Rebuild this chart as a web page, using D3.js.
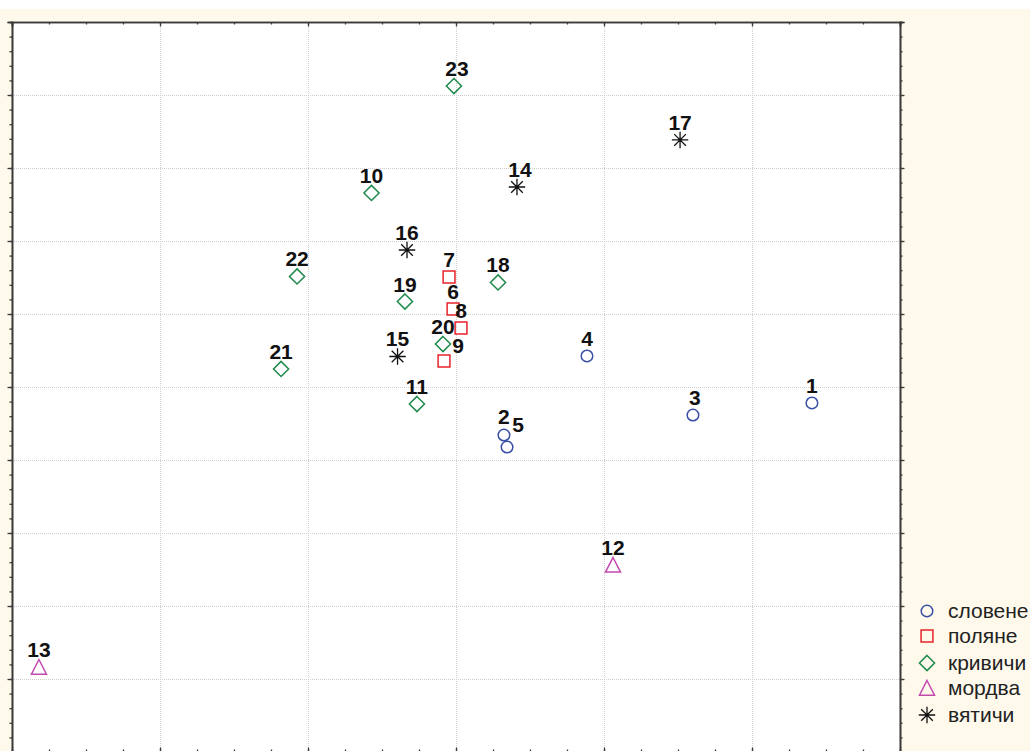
<!DOCTYPE html>
<html>
<head>
<meta charset="utf-8">
<script src="https://cdn.jsdelivr.net/npm/d3@7"></script>
<style>
  body { margin: 0; background: #fff; }
  svg { display: block; }
</style>
</head>
<body>
<svg id="chart" width="1030" height="751"></svg>
<script>
// point numbers, scores on the two axes, and group of each point
const ids    = [1, 2, 3, 4, 5, 6, 7, 8, 9, 10, 11, 12, 13, 14, 15, 16, 17, 18, 19, 20, 21, 22, 23]
const xVals  = [2.405, 0.324, 1.601, 0.885, 0.345, -0.020, -0.047, 0.034, -0.081, -0.571, -0.264, 1.061, -2.818,
                0.412, -0.395, -0.331, 1.514, 0.284, -0.345, -0.088, -1.182, -1.074, -0.014]
const yVals  = [-0.219, -0.658, -0.384, 0.425, -0.822, 1.068, 1.507, 0.808, 0.356, 2.658, -0.233, -2.438, -3.836,
                2.740, 0.418, 1.877, 3.384, 1.432, 1.171, 0.589, 0.247, 1.514, 4.123]
const groups = [0, 0, 0, 0, 0, 1, 1, 1, 1, 2, 2, 3, 3, 4, 4, 4, 4, 2, 2, 2, 2, 2, 2]

const groupNames  = ['словене', 'поляне', 'кривичи', 'мордва', 'вятичи']
const groupColors = ['#3a4fa6', '#e8232a', '#1f8a4c', '#c24aae', '#111111']

// a few labels are pushed aside so they do not sit on a neighbour
const labelShift = { 5: [11, -5], 9: [14, 2], 14: [3, 0], 23: [3, 0], 3: [2, 0], 2: [0, -1] }

const xTicks = d3.range(-3, 3.01, 1)
const yTicks = d3.range(-5, 5.01, 1)

const W = 1030, H = 751
const plot = { left: 12, right: 900, top: 22, bottom: 752 }

const svg = d3.select('#chart')

svg.append('rect')
   .attr('x', 0).attr('y', 9)
   .attr('width', W).attr('height', H - 9)
   .attr('fill', '#fff9ec')

svg.append('rect')
   .attr('x', plot.left).attr('y', plot.top)
   .attr('width', plot.right - plot.left).attr('height', plot.bottom - plot.top)
   .attr('fill', '#fff')

const x = d3.scaleLinear().domain([-3, 3]).range([plot.left, plot.right])
const y = d3.scaleLinear().domain([-5, 5]).range([plot.bottom, plot.top])

// grid
const grid = svg.append('g').attr('class', 'grid')
grid.append('g')
    .attr('transform', `translate(0,${plot.bottom})`)
    .call(d3.axisBottom(x).tickValues(xTicks.slice(1, -1)).tickSize(-(plot.bottom - plot.top)).tickFormat(''))
grid.append('g')
    .attr('transform', `translate(${plot.left},0)`)
    .call(d3.axisLeft(y).tickValues(yTicks.slice(1, -1)).tickSize(-(plot.right - plot.left)).tickFormat(''))
grid.selectAll('.domain').remove()
grid.selectAll('line')
    .attr('stroke', '#cfcfcf')
    .attr('stroke-width', 1)
    .attr('stroke-dasharray', '1,1')

// frame ticks, pointing into the plot
const xMinor = d3.range(-3, 3.001, 0.25)
const yMinor = d3.range(-5, 5.001, 0.2)
const axColor = '#3a3a3a'

function frameAxis(makeAxis, pos, minorVals, majorVals, showLine) {
  const g = svg.append('g').attr('transform', pos)
  g.append('g').call(makeAxis().tickValues(minorVals).tickSize(-2.5).tickFormat(''))
  g.append('g').call(makeAxis().tickValues(majorVals).tickSize(-4.5).tickFormat(''))
  g.selectAll('line').attr('stroke', axColor).attr('stroke-width', 1.3)
  if (showLine) g.selectAll('.domain').attr('stroke', axColor).attr('stroke-width', 1.6)
  else g.selectAll('.domain').remove()
}
frameAxis(() => d3.axisTop(x), `translate(0,${plot.top})`, xMinor, xTicks, true)
frameAxis(() => d3.axisBottom(x), `translate(0,${plot.bottom})`, xMinor, xTicks, false)
frameAxis(() => d3.axisRight(y), `translate(${plot.left},0)`, yMinor, yTicks, true)
frameAxis(() => d3.axisLeft(y), `translate(${plot.right},0)`, yMinor, yTicks, true)
svg.selectAll('.tick text').remove()

// marker shapes
const asterisk = {
  draw(ctx, size) {
    const r = Math.sqrt(size) / 2
    const d = r * Math.SQRT1_2
    ctx.moveTo(-r, 0); ctx.lineTo(r, 0)
    ctx.moveTo(0, -r); ctx.lineTo(0, r)
    ctx.moveTo(-d, -d); ctx.lineTo(d, d)
    ctx.moveTo(-d, d); ctx.lineTo(d, -d)
  }
}
const squareDiamond = {
  draw(ctx, size) {
    const r = Math.sqrt(size) / 2
    ctx.moveTo(0, -r); ctx.lineTo(r, 0); ctx.lineTo(0, r); ctx.lineTo(-r, 0); ctx.closePath()
  }
}
const openTriangle = {
  draw(ctx, size) {
    const r = Math.sqrt(size) / 2
    ctx.moveTo(0, -r); ctx.lineTo(r, r * 0.95); ctx.lineTo(-r, r * 0.95); ctx.closePath()
  }
}
const shapes = [d3.symbolCircle, d3.symbolSquare, squareDiamond, openTriangle, asterisk]
const shapeSizes = [105, 140, 230, 225, 270]

function marker(sel, gi) {
  sel.append('path')
     .attr('d', d3.symbol().type(shapes[gi]).size(shapeSizes[gi])())
     .attr('fill', 'none')
     .attr('stroke', groupColors[gi])
     .attr('stroke-width', gi === 4 ? 1.3 : 1.5)
}

const pts = ids.map((id, i) => ({ id, x: xVals[i], y: yVals[i], g: groups[i] }))

const pg = svg.append('g')
  .selectAll('g').data(pts).enter()
  .append('g')
  .attr('transform', d => `translate(${x(d.x)},${y(d.y)})`)
pg.each(function (d) { marker(d3.select(this), d.g) })
pg.append('text')
  .attr('x', d => (labelShift[d.id] || [0, 0])[0])
  .attr('y', d => -10 + (labelShift[d.id] || [0, 0])[1])
  .attr('text-anchor', 'middle')
  .attr('font-family', '"Liberation Sans", Arial, sans-serif')
  .attr('font-weight', 'bold')
  .attr('font-size', 21)
  .attr('fill', '#111')
  .text(d => d.id)

// legend
const legendY = [611, 636, 663, 688, 715]
const lg = svg.append('g')
  .selectAll('g').data(groupNames).enter()
  .append('g')
  .attr('transform', (d, i) => `translate(927,${legendY[i]})`)
lg.each(function (d, i) { marker(d3.select(this), i) })
lg.append('text')
  .attr('x', 21).attr('y', 7)
  .attr('font-family', '"Liberation Sans", Arial, sans-serif')
  .attr('font-size', 21)
  .attr('fill', '#222')
  .text(d => d)
</script>
</body>
</html>
